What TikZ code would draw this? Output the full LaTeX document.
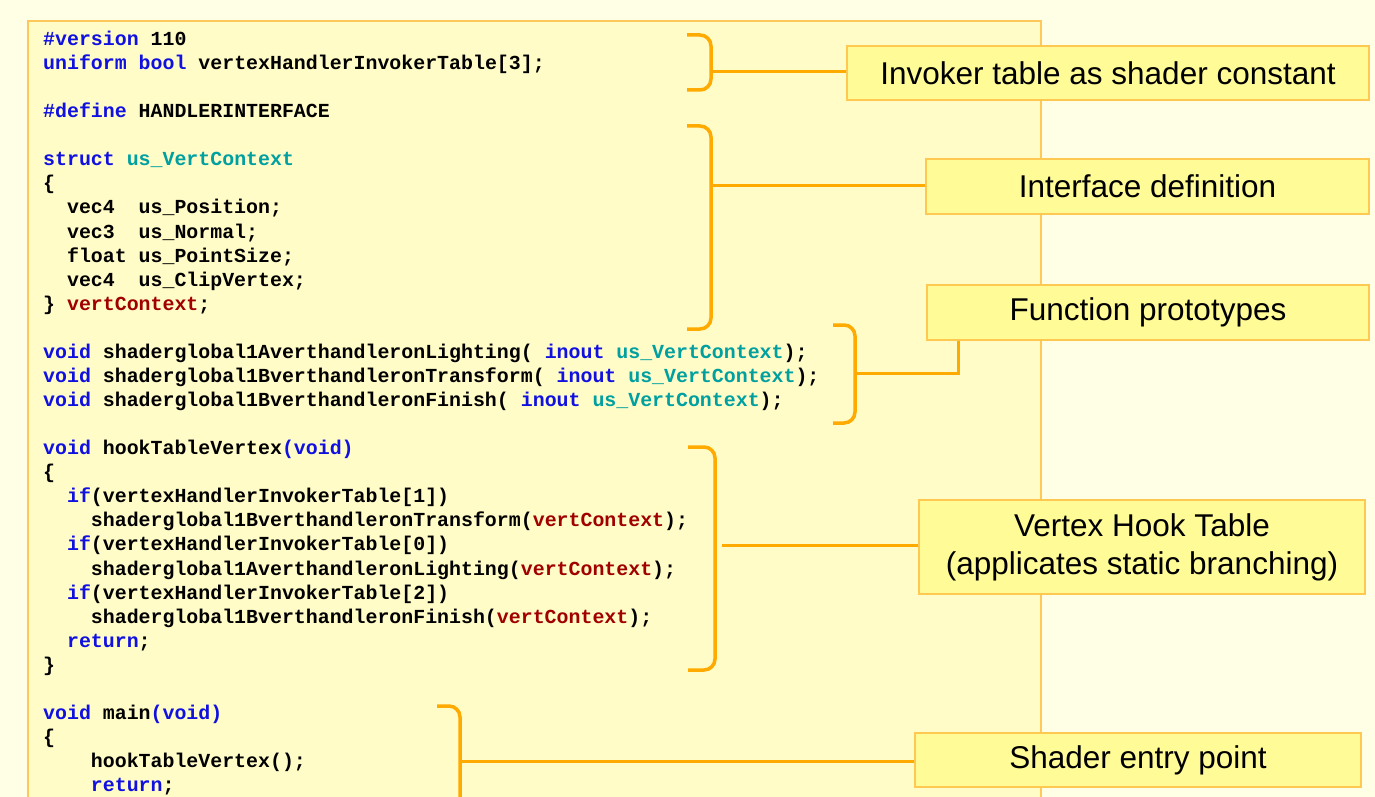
\documentclass[tikz,border=0pt]{standalone}
\usepackage{fontspec}
\setmainfont{Liberation Sans}
\newfontfamily\codefont{Liberation Mono}[BoldFont={Liberation Mono Bold}]
\definecolor{outerbg}{HTML}{FFFFE6}
\definecolor{panelbg}{HTML}{FFFCC8}
\definecolor{panelline}{HTML}{FFC85A}
\definecolor{boxfill}{HTML}{FFFB96}
\definecolor{boxline}{HTML}{FFC850}
\definecolor{bracecol}{HTML}{FFAA00}
\definecolor{kwcol}{HTML}{1010E0}
\definecolor{tycol}{HTML}{00A0A0}
\definecolor{vrcol}{HTML}{A00000}
\newcommand\kw[1]{\textcolor{kwcol}{#1}}
\newcommand\ty[1]{\textcolor{tycol}{#1}}
\newcommand\vr[1]{\textcolor{vrcol}{#1}}
\begin{document}
\begin{tikzpicture}[x=1pt,y=-1pt,
  codeline/.style={anchor=base west,inner sep=0pt,font=\codefont\bfseries\fontsize{19.9}{24}\selectfont,text=black},
  labelbox/.style={draw=boxline,line width=2pt,fill=boxfill,inner sep=0pt,font=\fontsize{31.5}{38}\selectfont,align=center},
  bracket/.style={draw=bracecol,line width=3.5pt,rounded corners=11pt,line cap=butt},
  link/.style={draw=bracecol,line width=3pt}]
\useasboundingbox (0,0) rectangle (1375,797);
\fill[outerbg] (0,0) rectangle (1375,797);
\fill[panelbg] (28,21) rectangle (1041,797);
\draw[panelline,line width=1.8pt] (28,797) -- (28,21) -- (1041,21) -- (1041,797);
% code lines
\def\cx{43}
\def\ch{11.94}
\foreach \k/\ind/\txt in {
 0/0/{\kw{\#version} 110},
 1/0/{\kw{uniform bool} vertexHandlerInvokerTable[3];},
 3/0/{\kw{\#define} HANDLERINTERFACE},
 5/0/{\kw{struct} \ty{us\_VertContext}},
 6/0/{\{},
 7/2/{vec4\ \ us\_Position;},
 8/2/{vec3\ \ us\_Normal;},
 9/2/{float us\_PointSize;},
 10/2/{vec4\ \ us\_ClipVertex;},
 11/0/{\} \vr{vertContext};},
 13/0/{\kw{void} shaderglobal1AverthandleronLighting( \kw{inout} \ty{us\_VertContext});},
 14/0/{\kw{void} shaderglobal1BverthandleronTransform( \kw{inout} \ty{us\_VertContext});},
 15/0/{\kw{void} shaderglobal1BverthandleronFinish( \kw{inout} \ty{us\_VertContext});},
 17/0/{\kw{void} hookTableVertex\kw{(void)}},
 18/0/{\{},
 19/2/{\kw{if}(vertexHandlerInvokerTable[1])},
 20/4/{shaderglobal1BverthandleronTransform(\vr{vertContext});},
 21/2/{\kw{if}(vertexHandlerInvokerTable[0])},
 22/4/{shaderglobal1AverthandleronLighting(\vr{vertContext});},
 23/2/{\kw{if}(vertexHandlerInvokerTable[2])},
 24/4/{shaderglobal1BverthandleronFinish(\vr{vertContext});},
 25/2/{\kw{return};},
 26/0/{\}},
 28/0/{\kw{void} main\kw{(void)}},
 29/0/{\{},
 30/4/{hookTableVertex();},
 31/4/{\kw{return};}
}{
 \node[codeline] (code\k) at ({\cx+\ind*\ch},{45.5+24.07*\k}) {\txt};
}
% label boxes
\node[labelbox,minimum width=522pt,minimum height=54pt] (inv) at (1108,73) {Invoker table as shader constant};
\node[labelbox,minimum width=443pt,minimum height=55pt] (iface) at (1147.5,186.5) {Interface definition};
\node[labelbox,minimum width=442pt,minimum height=55pt] (proto) at (1148,312.5) {Function prototypes};
\node[labelbox,minimum width=446pt,minimum height=94pt] (hook) at (1142,547) {Vertex Hook Table\\(applicates static branching)};
\node[labelbox,minimum width=446pt,minimum height=54pt] (entry) at (1138,760) {Shader entry point};
% brackets
\coordinate (b1) at (711,72);
\coordinate (b2) at (711,185);
\coordinate (b3) at (855,373);
\coordinate (b3c) at (958,373);
\coordinate (b4) at (722,545);
\coordinate (b5) at (460,761);
\draw[bracket] (687,35) -- (711,35) -- (711,90) -- (687,90);
\draw[bracket] (687,126) -- (711,126) -- (711,329) -- (687,329);
\draw[bracket] (833,325) -- (855,325) -- (855,423) -- (833,423);
\draw[bracket] (688,447) -- (715,447) -- (715,670) -- (688,670);
\draw[bracket] (437,706) -- (460,706) -- (460,800);
% connectors
\draw[link] (b1) -- (b1 -| inv.west);
\draw[link] (b2) -- (b2 -| iface.west);
\draw[link] (b3) -- (b3c) -- (b3c |- proto.south);
\draw[link] (b4) -- (b4 -| hook.west);
\draw[link] (b5) -- (b5 -| entry.west);
\end{tikzpicture}
\end{document}
